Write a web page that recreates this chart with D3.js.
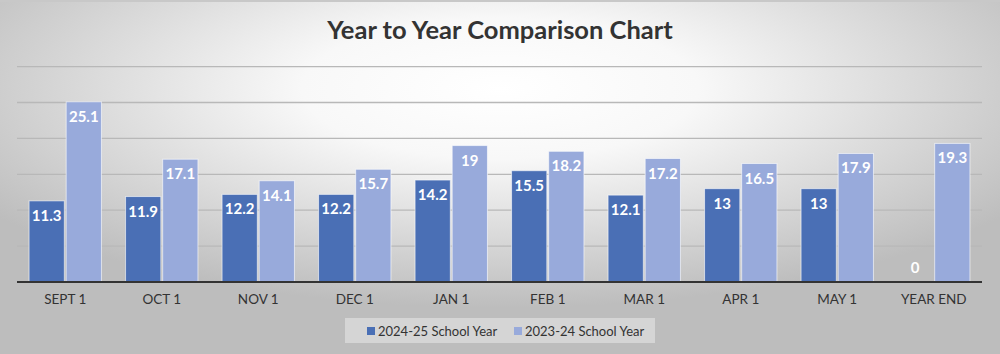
<!DOCTYPE html>
<html><head><meta charset="utf-8">
<script src="https://cdn.jsdelivr.net/npm/d3@7"></script>
<style>html,body{margin:0;padding:0;background:#fff;}svg{display:block;}</style>
</head><body>
<svg id="c" width="1000" height="354"></svg>
<script>
const categories = ["SEPT 1","OCT 1","NOV 1","DEC 1","JAN 1","FEB 1","MAR 1","APR 1","MAY 1","YEAR END"];
const series2425 = [11.3, 11.9, 12.2, 12.2, 14.2, 15.5, 12.1, 13, 13, 0];
const series2324 = [25.1, 17.1, 14.1, 15.7, 19, 18.2, 17.2, 16.5, 17.9, 19.3];
const seriesNames = ["2024-25 School Year", "2023-24 School Year"];
const yTicks = [5, 10, 15, 20, 25, 30];
const colors = ["#4a6fb5", "#98aadb"];

const svg = d3.select("#c");
const W = 1000, H = 354;
const defs = svg.append("defs");
const rg = defs.append("radialGradient").attr("id","bg").attr("cx","50%").attr("cy","25%").attr("r","62%");
rg.append("stop").attr("offset","0%").attr("stop-color","#ffffff");
rg.append("stop").attr("offset","32%").attr("stop-color","#f8f8f8");
rg.append("stop").attr("offset","100%").attr("stop-color","#bdbdbd");
svg.append("rect").attr("width",W).attr("height",H).attr("fill","url(#bg)");
svg.append("line").attr("x1",0).attr("x2",W).attr("y1",1).attr("y2",1).attr("stroke","#c8c8c8").attr("stroke-width",2);

const m = {left:17, right:18, top:66, bottom:72};
const x0 = d3.scaleBand().domain(categories).range([m.left, W - m.right]).paddingInner(0.25).paddingOuter(0.125);
const x1 = d3.scaleBand().domain([0,1]).range([0, x0.bandwidth()]).paddingInner(0.05);
const y = d3.scaleLinear().domain([0, 30]).range([282, 282 - 6*35.9]);

// gridlines
svg.append("g").selectAll("line").data(yTicks).join("line")
  .attr("x1", m.left).attr("x2", W - m.right)
  .attr("y1", d => y(d)).attr("y2", d => y(d))
  .attr("stroke", "#b8b8b8").attr("stroke-width", 1.3);

// title
svg.append("text").attr("x", 500).attr("y", 39).attr("text-anchor","middle")
  .attr("font-family","Lato, 'Open Sans', sans-serif").attr("font-weight","bold")
  .attr("font-size", 25.5).attr("fill","#333333").text("Year to Year Comparison Chart");

const data = categories.map((c,i) => ({c, v:[series2425[i], series2324[i]]}));
const g = svg.append("g").selectAll("g").data(data).join("g")
  .attr("transform", d => `translate(${x0(d.c)},0)`);
g.selectAll("rect").data(d => d.v.map((v,k)=>({v,k}))).join("rect")
  .attr("x", d => x1(d.k)).attr("width", x1.bandwidth())
  .attr("y", d => y(d.v)).attr("height", d => y(0) - y(d.v))
  .attr("fill", d => colors[d.k]).attr("stroke", "rgba(255,255,255,0.6)").attr("stroke-width", 1);
g.selectAll("text").data(d => d.v.map((v,k)=>({v,k}))).join("text")
  .attr("x", d => x1(d.k) + x1.bandwidth()/2)
  .attr("y", d => d.v === 0 ? y(0) - 9 : y(d.v) + 20)
  .attr("text-anchor","middle").attr("fill","#ffffff")
  .attr("font-family","Lato, 'Open Sans', sans-serif").attr("font-weight","bold").attr("font-size", 15)
  .text(d => d.v);

// x axis
const xAxis = d3.axisBottom(x0).tickSize(0).tickPadding(12);
const ax = svg.append("g").attr("transform", `translate(0,${y(0)})`).call(xAxis);
ax.select(".domain").attr("stroke","#333").attr("stroke-width",2).attr("d", `M${m.left},0H${W - m.right}`);
ax.selectAll("text").attr("font-family","Lato, 'Open Sans', sans-serif").attr("font-size", 13.5).attr("fill","#333");

// legend
svg.append("rect").attr("x",345).attr("y",318).attr("width",310).attr("height",25).attr("fill","#eeeeee").attr("opacity",0.5);
const lx = [367, 514];
const lg = svg.append("g").selectAll("g").data(seriesNames).join("g")
  .attr("transform", (d,i) => `translate(${lx[i]},331)`);
lg.append("rect").attr("x",0).attr("y",-4).attr("width",8).attr("height",8).attr("fill",(d,i)=>colors[i]);
lg.append("text").attr("x",11).attr("y",5).attr("font-family","Lato, 'Open Sans', sans-serif")
  .attr("font-size",13).attr("fill","#333").text(d => d);
</script>
</body></html>
